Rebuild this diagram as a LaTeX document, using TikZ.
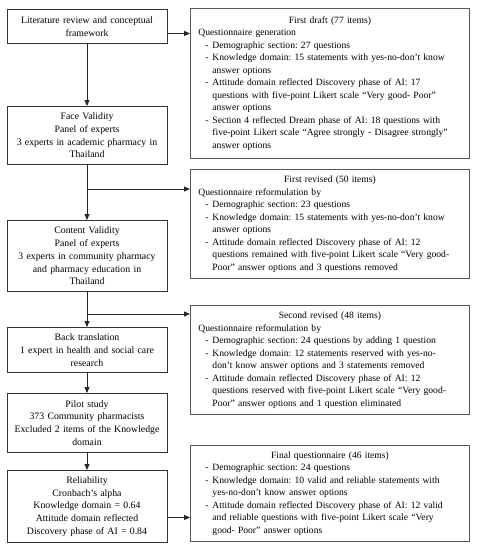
\documentclass[tikz,border=0pt]{standalone}
\usepackage{fontspec}
\setmainfont{Liberation Serif}
\usetikzlibrary{arrows.meta}
\frenchspacing
\newcommand\lfont{\fontsize{9.8}{12.7}\selectfont}
\newcommand\rfont{\fontsize{9.6}{12.5}\selectfont}
\newcommand\bitem[1]{\makebox[14pt][l]{\hspace{7pt}-}\mbox{#1}}
\newcommand\bcont[1]{\hspace*{14pt}\mbox{#1}}
\newcommand\rtitle[1]{\makebox[263pt][c]{#1}}
\begin{document}
\begin{tikzpicture}[x=1pt,y=1pt]
\tikzset{
 lbox/.style={draw=black!80, line width=0.9pt, minimum width=160pt, text width=156pt, align=center, inner sep=0pt, anchor=north, font=\lfont},
 rbox/.style={draw=black!65, line width=0.9pt, minimum width=279pt, text width=263pt, align=left, inner sep=0pt, anchor=north west, font=\rfont},
 arr/.style={draw=black!85, line width=0.8pt, -{Triangle[length=6pt,width=5pt]}},
}
\useasboundingbox (0,0) rectangle (478,-550);
% left column
\node[lbox, minimum height=34pt] (lit) at (87,-9) {Literature review and conceptual\\framework};
\node[lbox, minimum height=58pt] (face) at (87,-106) {Face Validity\\Panel of experts\\3 experts in academic pharmacy in\\Thailand};
\node[lbox, minimum height=71pt] (content) at (87,-220) {Content Validity\\Panel of experts\\3 experts in community pharmacy\\and pharmacy education in\\Thailand};
\node[lbox, minimum height=45pt] (back) at (87,-327) {Back translation\\1 expert in health and social care\\research};
\node[lbox, minimum height=59pt] (pilot) at (87,-393) {Pilot study\\373 Community pharmacists\\Excluded 2 items of the Knowledge\\domain};
\node[lbox, minimum height=72pt] (rel) at (87,-470) {Reliability\\Cronbach’s alpha\\Knowledge domain = 0.64\\Attitude domain reflected\\Discovery phase of AI = 0.84};
% right column
\node[rbox, minimum height=150pt] (fd) at (190,-8) {\rtitle{First draft (77 items)}\\
Questionnaire generation\\
\bitem{Demographic section: 27 questions}\\
\bitem{Knowledge domain: 15 statements with yes-no-don’t know}\\
\bcont{answer options}\\
\bitem{Attitude domain reflected Discovery phase of AI: 17}\\
\bcont{questions with five-point Likert scale “Very good- Poor”}\\
\bcont{answer options}\\
\bitem{Section 4 reflected Dream phase of AI: 18 questions with}\\
\bcont{five-point Likert scale “Agree strongly - Disagree strongly”}\\
\bcont{answer options}};
\node[rbox, minimum height=109pt] (fr) at (190,-169) {\rtitle{First revised (50 items)}\\
Questionnaire reformulation by\\
\bitem{Demographic section: 23 questions}\\
\bitem{Knowledge domain: 15 statements with yes-no-don’t know}\\
\bcont{answer options}\\
\bitem{Attitude domain reflected Discovery phase of AI: 12}\\
\bcont{questions remained with five-point Likert scale “Very good-}\\
\bcont{Poor” answer options and 3 questions removed}};
\node[rbox, minimum height=109pt] (sr) at (190,-305) {\rtitle{Second revised (48 items)}\\
Questionnaire reformulation by\\
\bitem{Demographic section: 24 questions by adding 1 question}\\
\bitem{Knowledge domain: 12 statements reserved with yes-no-}\\
\bcont{don’t know answer options and 3 statements removed}\\
\bitem{Attitude domain reflected Discovery phase of AI: 12}\\
\bcont{questions reserved with five-point Likert scale “Very good-}\\
\bcont{Poor” answer options and 1 question eliminated}};
\node[rbox, minimum height=96pt] (fq) at (190,-445) {\rtitle{Final questionnaire (46 items)}\\
\bitem{Demographic section: 24 questions}\\
\bitem{Knowledge domain: 10 valid and reliable statements with}\\
\bcont{yes-no-don’t know answer options}\\
\bitem{Attitude domain reflected Discovery phase of AI: 12 valid}\\
\bcont{and reliable questions with five-point Likert scale “Very}\\
\bcont{good- Poor” answer options}};
% connectors
\coordinate (j1) at (87,-189);
\coordinate (j2) at (87,-314);
\draw[arr] (lit) -- (face);
\draw[arr] (face) -- (content);
\draw[arr] (content) -- (back);
\draw[arr] (back) -- (pilot);
\draw[arr] (pilot) -- (rel);
\draw[arr] ([yshift=-7pt]lit.east) -- ([yshift=-7pt]lit.east -| fd.west);
\draw[arr] (j1) -- (j1 -| fr.west);
\draw[arr] (j2) -- (j2 -| sr.west);
\draw[arr] ([yshift=-11pt]rel.east) -- ([yshift=-11pt]rel.east -| fq.west);
\end{tikzpicture}
\end{document}
